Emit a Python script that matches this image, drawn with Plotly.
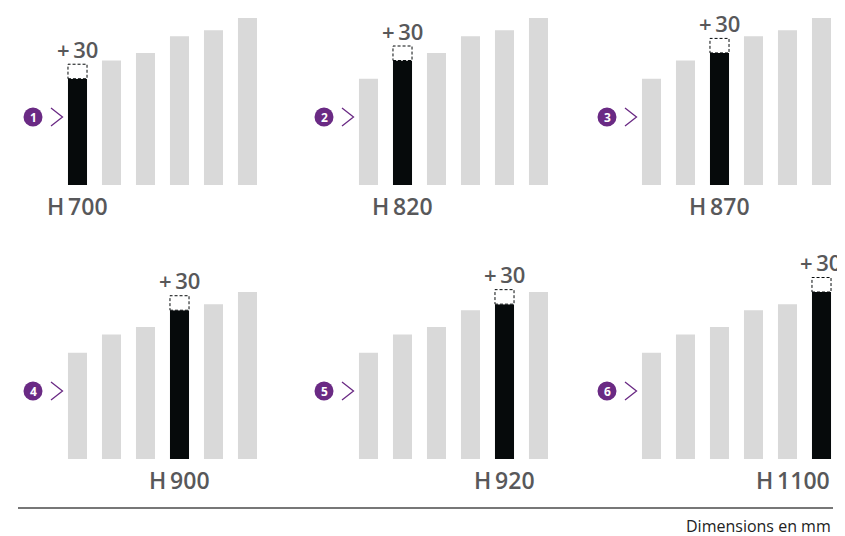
import plotly.graph_objects as go

# bar heights as drawn (mm-ish)
bar_heights = [700, 820, 870, 980, 1020, 1100]
# model names shown under the highlighted bar
model_labels = ["H\u2009700", "H\u2009820", "H\u2009870", "H\u2009900", "H\u2009920", "H\u20091100"]
step_numbers = ["1", "2", "3", "4", "5", "6"]
extra_label = "+\u200930"

# page body has an 8px margin, so the figure is 8px smaller and shifted
OFF = 8
W, H = 845 - OFF, 536 - OFF
GRAY = "#d9d9d9"
BLACK = "#060a0b"
PURPLE = "#6a2a84"
TXT = "#58585a"
FONT = "Open Sans"

px_per_unit = 167 / 1100
bar_step = 34
x_lo = -1.7
col_left = [60.5, 351.5, 634.5]  # pixel x (in the reference) where x = -0.5
row_base = [185, 459]  # pixel y of baselines
row_h = [175, 200]  # pixel height of each row's y domain


def px(x):
    return (x - OFF) / W


def py(y):
    return (H - (y - OFF)) / H


fig = go.Figure()
shapes = []
annotations = []

for k in range(6):
    r, c = divmod(k, 3)
    ax = "" if k == 0 else str(k + 1)
    xa, ya = "x" + ax, "y" + ax
    colors = [BLACK if i == k else GRAY for i in range(6)]
    fig.add_trace(go.Bar(x=list(range(6)), y=bar_heights, marker_color=colors,
                         marker_line_width=0, xaxis=xa, yaxis=ya,
                         hoverinfo="skip", showlegend=False))
    left = col_left[c] + (x_lo + 0.5) * bar_step
    right = col_left[c] + 6 * bar_step
    fig.layout["xaxis" + ax] = dict(domain=[px(left), px(right)], range=[x_lo, 5.5],
                                    visible=False, anchor=ya, fixedrange=True)
    fig.layout["yaxis" + ax] = dict(domain=[py(row_base[r]), py(row_base[r] - row_h[r])],
                                    range=[0, row_h[r] / px_per_unit],
                                    visible=False, anchor=xa, fixedrange=True)

    v = bar_heights[k]
    # dashed "+30" box on top of the highlighted bar
    shapes.append(dict(type="rect", xref=xa, yref=ya, x0=k - 0.28, x1=k + 0.28,
                       ysizemode="pixel", yanchor=v, y0=0, y1=14.5,
                       line=dict(color=BLACK, width=1, dash="3px,2px"),
                       fillcolor="white", layer="above"))
    plus = dict(x=k, xanchor="center", xshift=0)
    if k == 5:
        plus = dict(x=k + 0.28, xanchor="right", xshift=12)
    annotations.append(dict(xref=xa, yref=ya, y=v, yshift=30, text=extra_label,
                            showarrow=False, yanchor="middle", height=24,
                            font=dict(family=FONT, size=22, color=TXT, weight=600), **plus))
    # model label under the bar
    if k == 5:
        lab = dict(x=k + 0.3, xanchor="right")
    else:
        lab = dict(x=k, xanchor="center")
    annotations.append(dict(xref=xa, yref=ya, y=0, yshift=-21, text=model_labels[k],
                            showarrow=False, yanchor="middle",
                            font=dict(family=FONT, size=23, color=TXT, weight=600), **lab))
    # purple numbered bullet + chevron
    shapes.append(dict(type="circle", xref=xa, yref=ya, xsizemode="pixel", ysizemode="pixel",
                       xanchor=-0.5, yanchor=0, x0=-37, x1=-18, y0=58.5, y1=77.5,
                       fillcolor=PURPLE, line=dict(width=0)))
    annotations.append(dict(xref=xa, yref=ya, x=-0.5, xshift=-27.5, y=0, yshift=68,
                            text=step_numbers[k], showarrow=False,
                            font=dict(family=FONT, size=12, color="white", weight=700)))
    shapes.append(dict(type="path", xref=xa, yref=ya, xsizemode="pixel", ysizemode="pixel",
                       xanchor=-0.5, yanchor=0,
                       path="M -9.5 77 L 2 68 L -9.5 59",
                       line=dict(color=PURPLE, width=1.3)))

shapes.append(dict(type="line", xref="paper", yref="paper", x0=px(18), x1=px(833),
                   y0=py(508), y1=py(508), line=dict(color="#4a4a4a", width=1.5)))
annotations.append(dict(xref="paper", yref="paper", x=px(833), y=py(526),
                        xanchor="right", yanchor="middle", showarrow=False,
                        text="Dimensions en mm", font=dict(family=FONT, size=16, color="#222")))

fig.update_layout(width=W, height=H, margin=dict(l=0, r=0, t=0, b=0),
                  paper_bgcolor="white", plot_bgcolor="white", bargap=0.44,
                  shapes=shapes, annotations=annotations)
fig.write_html("out.html", config={"displayModeBar": False})
